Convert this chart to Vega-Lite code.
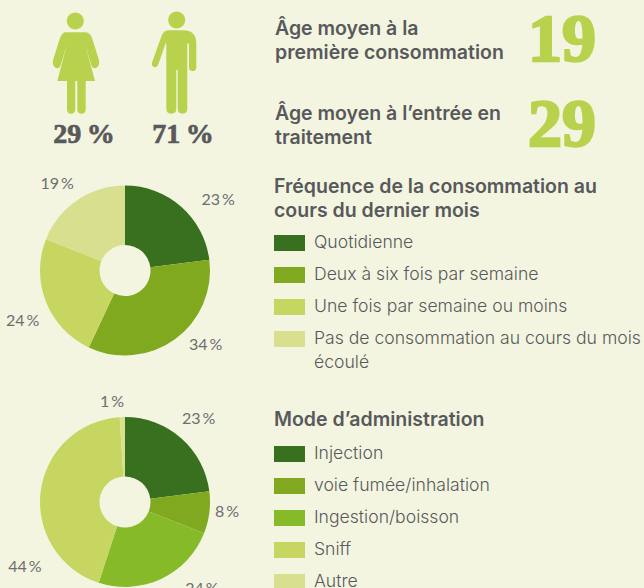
{
"$schema":"https://vega.github.io/schema/vega-lite/v6.json",
"background":"#f3f5e1","padding":0,"bounds":"flush","spacing":20,
"config":{"view":{"stroke":null},"style":{"guide-label":{"lineHeight":24}},"legend":{"titleFont":"Inter","titleFontSize":19.5,"titleFontWeight":600,"titleColor":"#58595b","titleLineHeight":24,"titleLimit":400,"labelFont":"Inter","labelFontSize":17.6,"labelFontWeight":300,"labelColor":"#58595b","labelOffset":9,"labelLimit":400,"symbolType":"M-1,-0.516H1V0.516H-1Z","symbolSize":961,"symbolStrokeWidth":0,"symbolOpacity":1,"rowPadding":7,"orient":"none","titlePadding":8}},
"resolve":{"scale":{"color":"independent","theta":"independent","x":"independent","y":"independent"},"legend":{"color":"independent"}},
"vconcat":[
{"width":644,"height":125,
"resolve":{"scale":{"x":"independent","y":"independent"}},
"layer":[
{"data":{"values":[{"sexe":"Femmes","part":"29\u2009%"},{"sexe":"Hommes","part":"71\u2009%"}]},
"layer":[
{"mark":{"type":"point","filled":true,"opacity":1,"size":4,"color":"#b9d24e"},
"encoding":{"x":{"field":"sexe","type":"nominal","axis":null,"scale":{"type":"point","domain":["Femmes","Hommes"],"range":[76,175],"padding":0}},
"y":{"datum":"icone","axis":null,"scale":{"type":"point","domain":["icone","part"],"range":[63.5,135],"padding":0}},
"shape":{"field":"sexe","legend":null,"scale":{"domain":["Femmes","Hommes"],"range":["M-10,-31.2L9,-31.2Q14,-31.2 16,-25.5L23,-3.5Q24,2.5 20,4.5Q16,5.5 15,0.5L9,-19.5L19,17.5L9.7,17.5L9.7,45.5Q9.7,50.2 5.5,50.2Q1.3,50.2 1.3,45.5L1.3,17.5L-0.7,17.5L-0.7,45.5Q-0.7,50.2 -5,50.2Q-9,50.2 -9,45.5L-9,17.5L-18.7,17.5L-9,-19.5L-15,0.5Q-16,5.5 -20,4.5Q-24,2.5 -23,-3.5L-16,-25.5Q-14,-31.2 -10,-31.2ZM-9.2,-42.5A8.5,8.5 0 1 1 7.8,-42.5A8.5,8.5 0 1 1 -9.2,-42.5Z","M-6,-33.2L8,-33.2Q21.3,-33.2 21.3,-20L21.3,4Q21.3,7.5 17.7,7.5Q14,7.5 14,4L14,-20L12.3,-20L12.3,45Q12.3,50.2 7.5,50.2Q2.7,50.2 2.7,45L2.7,6.5L1.3,6.5L1.3,45Q1.3,50.2 -3.7,50.2Q-8.7,50.2 -8.7,45L-8.7,-20L-9.5,-20L-16.7,1Q-18.5,4.5 -21,3.5Q-24,2 -23,-1L-13.3,-28Q-11,-33.2 -6,-33.2ZM-6.8,-43.5A8.5,8.5 0 1 1 10.2,-43.5A8.5,8.5 0 1 1 -6.8,-43.5Z"]}}}},
{"mark":{"type":"text","font":"Liberation Serif","fontWeight":"bold","fontSize":28,"color":"#58595b","stroke":"#58595b","strokeWidth":0.7,"dx":8,"baseline":"middle"},
"encoding":{"x":{"field":"sexe","type":"nominal","axis":null,"scale":{"type":"point","domain":["Femmes","Hommes"],"range":[76,175],"padding":0}},
"y":{"datum":"part","axis":null,"scale":{"type":"point","domain":["icone","part"],"range":[63.5,135],"padding":0}},
"text":{"field":"part"}}}
]},
{"data":{"values":[{"mesure":"Âge moyen à la\npremière consommation","age":19},{"mesure":"Âge moyen à l’entrée en\ntraitement","age":29}]},
"layer":[
{"mark":{"type":"text","font":"Inter","fontWeight":600,"fontSize":19.5,"lineHeight":24,"lineBreak":"\n","color":"#58595b","align":"left","baseline":"middle","dy":-12.5},
"encoding":{"x":{"datum":"mesure","axis":null,"scale":{"type":"point","domain":["mesure","age"],"range":[275,596],"padding":0}},
"y":{"field":"mesure","type":"nominal","axis":null,"sort":null,"scale":{"type":"point","range":[41,126],"padding":0}},
"text":{"field":"mesure"}}},
{"mark":{"type":"text","font":"Liberation Serif","fontWeight":"bold","fontSize":68,"color":"#b9d24e","stroke":"#b9d24e","strokeWidth":2.5,"align":"right","baseline":"middle"},
"encoding":{"x":{"datum":"age","axis":null,"scale":{"type":"point","domain":["mesure","age"],"range":[275,596],"padding":0}},
"y":{"field":"mesure","type":"nominal","axis":null,"sort":null,"scale":{"type":"point","range":[41,126],"padding":0}},
"text":{"field":"age"}}}
]}
]},
{"width":250,"height":251,
"data":{"values":[
{"frequence":"Quotidienne","pct":23,"rang":1,"label":"23\u2009%"},
{"frequence":"Deux à six fois par semaine","pct":34,"rang":2,"label":"34\u2009%"},
{"frequence":"Une fois par semaine ou moins","pct":24,"rang":3,"label":"24\u2009%"},
{"frequence":"Pas de consommation au cours du mois|écoulé","pct":19,"rang":4,"label":"19\u2009%"}]},
"layer":[
{"mark":{"type":"arc","outerRadius":85,"innerRadius":25.5},
"encoding":{"theta":{"field":"pct","type":"quantitative","stack":true},"order":{"field":"rang"},
"color":{"field":"frequence","type":"nominal","scale":{"domain":["Quotidienne","Deux à six fois par semaine","Une fois par semaine ou moins","Pas de consommation au cours du mois|écoulé"],"range":["#38701f","#80a91f","#c6d661","#d8e08f"]},
"legend":{"title":["Fréquence de la consommation au","cours du dernier mois"],"legendX":274,"legendY":33,"titlePadding":6,"labelExpr":"split(datum.label,'|')"}}}},
{"mark":{"type":"text","font":"Lato","fontSize":16,"color":"#6d6e70","baseline":"middle",
"dx":{"expr":"[20.5,16,0,-6][datum.rang-1]"},
"dy":{"expr":"[12,-14,10,4][datum.rang-1]"}},
"encoding":{"theta":{"field":"pct","type":"quantitative","stack":true},"order":{"field":"rang"},"radius":{"value":110},"text":{"field":"label"}}}
]},
{"width":250,"height":172,
"data":{"values":[
{"mode":"Injection","pct":23,"rang":1,"label":"23\u2009%"},
{"mode":"voie fumée/inhalation","pct":8,"rang":2,"label":"8\u2009%"},
{"mode":"Ingestion/boisson","pct":24,"rang":3,"label":"24\u2009%"},
{"mode":"Sniff","pct":44,"rang":4,"label":"44\u2009%"},
{"mode":"Autre","pct":1,"rang":5,"label":"1\u2009%"}]},
"layer":[
{"mark":{"type":"arc","outerRadius":85,"innerRadius":25.5},
"encoding":{"theta":{"field":"pct","type":"quantitative","stack":true},"order":{"field":"rang"},
"color":{"field":"mode","type":"nominal","scale":{"domain":["Injection","voie fumée/inhalation","Ingestion/boisson","Sniff","Autre"],"range":["#38701f","#80a91f","#86ba29","#c6d661","#d8e08f"]},
"legend":{"title":"Mode d’administration","legendX":274,"legendY":-5}}}},
{"mark":{"type":"text","font":"Lato","fontSize":16,"color":"#6d6e70","baseline":"middle",
"dx":{"expr":"[1,-7,30,9,-9.5][datum.rang-1]"},
"dy":{"expr":"[0,-3.5,-13,79,10][datum.rang-1]"}},
"encoding":{"theta":{"field":"pct","type":"quantitative","stack":true},"order":{"field":"rang"},"radius":{"value":110},"text":{"field":"label"}}}
]}
]}
